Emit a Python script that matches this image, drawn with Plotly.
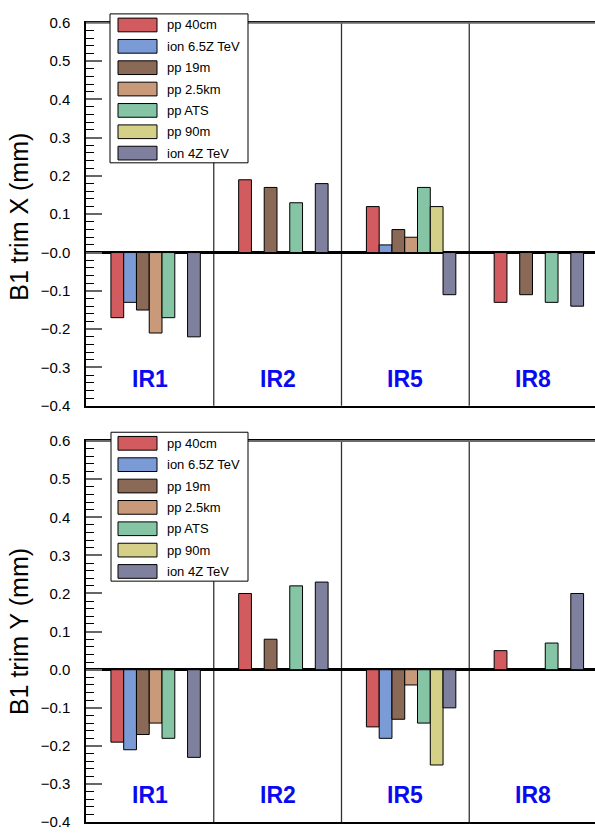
import plotly.graph_objects as go

# ---------------- data ----------------
groups = ["IR1", "IR2", "IR5", "IR8"]
series = ["pp 40cm", "ion 6.5Z TeV", "pp 19m", "pp 2.5km", "pp ATS", "pp 90m", "ion 4Z TeV"]

# B1 trim X (mm), per series, values for IR1, IR2, IR5, IR8 (None = no bar)
trim_x_pp40cm = [-0.17, 0.19, 0.12, -0.13]
trim_x_ion65 = [-0.13, None, 0.02, None]
trim_x_pp19m = [-0.15, 0.17, 0.06, -0.11]
trim_x_pp25km = [-0.21, None, 0.04, None]
trim_x_ppATS = [-0.17, 0.13, 0.17, -0.13]
trim_x_pp90m = [None, None, 0.12, None]
trim_x_ion4 = [-0.22, 0.18, -0.11, -0.14]

# B1 trim Y (mm)
trim_y_pp40cm = [-0.19, 0.20, -0.15, 0.05]
trim_y_ion65 = [-0.21, None, -0.18, None]
trim_y_pp19m = [-0.17, 0.08, -0.13, None]
trim_y_pp25km = [-0.14, None, -0.04, None]
trim_y_ppATS = [-0.18, 0.22, -0.14, 0.07]
trim_y_pp90m = [None, None, -0.25, None]
trim_y_ion4 = [-0.23, 0.23, -0.10, 0.20]

trim_x = [trim_x_pp40cm, trim_x_ion65, trim_x_pp19m, trim_x_pp25km, trim_x_ppATS, trim_x_pp90m, trim_x_ion4]
trim_y = [trim_y_pp40cm, trim_y_ion65, trim_y_pp19m, trim_y_pp25km, trim_y_ppATS, trim_y_pp90m, trim_y_ion4]

y_tickvals = [-0.4, -0.3, -0.2, -0.1, 0.0, 0.1, 0.2, 0.3, 0.4, 0.5, 0.6]
y_ticktext_top = ["\u22120.4", "\u22120.3", "\u22120.2", "\u22120.1", "\u22120.0", "0.1", "0.2", "0.3", "0.4", "0.5", "0.6"]
y_ticktext_bot = ["\u22120.4", "\u22120.3", "\u22120.2", "\u22120.1", "0.0", "0.1", "0.2", "0.3", "0.4", "0.5", "0.6"]

# ---------------- style ----------------
colors = ["#d15b5e", "#7b9bd6", "#8a6957", "#c99a7a", "#85c4a4", "#d4d088", "#7f7f9e"]
FONT = "Liberation Sans, Arial, sans-serif"
W, H = 595, 838
BAR_W = 0.1
FIRST_OFF = -0.305

def px_x(p):
    return p / W

def px_y(p):
    return 1 - p / H

fig = go.Figure()
gidx = list(range(len(groups)))

for panel, data in ((1, trim_x), (2, trim_y)):
    xa = "x" if panel == 1 else "x2"
    ya = "y" if panel == 1 else "y2"
    for k, (name, vals) in enumerate(zip(series, data)):
        fig.add_trace(go.Bar(
            x=gidx, y=vals, name=name, width=BAR_W, offset=FIRST_OFF + BAR_W * k,
            marker=dict(color=colors[k], line=dict(color="black", width=1)),
            xaxis=xa, yaxis=ya, showlegend=False,
        ))

top_dom = [px_y(405), px_y(14)]
bot_dom = [px_y(830), px_y(441)]
xrange_ = [-0.5, -0.5 + (W - 86) / 127.75]

common_x = dict(range=xrange_, showticklabels=False, ticks="", showgrid=False, zeroline=False,
                showline=True, linecolor="black", linewidth=2, mirror=True,
                domain=[px_x(86), 1])
fig.update_layout(
    xaxis=dict(common_x, anchor="y"),
    xaxis2=dict(common_x, anchor="y2"),
)

def yaxis_cfg(dom, ticktext, anchor):
    return dict(
        domain=dom, anchor=anchor, range=[-0.4, 0.6], showgrid=False,
        zeroline=True, zerolinecolor="black", zerolinewidth=2.5,
        showline=True, linecolor="black", linewidth=1.5, mirror=False,
        tickmode="array", tickvals=y_tickvals, ticktext=ticktext,
        ticks="inside", ticklen=16, tickwidth=1.5, tickcolor="#666",
        ticklabelstandoff=11,
        tickfont=dict(family=FONT, size=15, color="black"),
        minor=dict(dtick=0.02, tick0=0, ticks="inside", ticklen=8, tickwidth=1, tickcolor="black", showgrid=False),
    )

fig.update_layout(
    yaxis=yaxis_cfg(top_dom, y_ticktext_top, "x"),
    yaxis2=yaxis_cfg(bot_dom, y_ticktext_bot, "x2"),
)

shapes = []
annotations = []
# group separators, top frame line and labels
for panel in (1, 2):
    xr = "x" if panel == 1 else "x2"
    yr = "y" if panel == 1 else "y2"
    for b in [0.5, 1.5, 2.5]:
        shapes.append(dict(type="line", xref=xr, yref=yr + " domain", x0=b, x1=b, y0=0, y1=1,
                           line=dict(color="#333", width=1.3), layer="below"))
    shapes.append(dict(type="line", xref=xr + " domain", yref=yr + " domain", x0=0, x1=1, y0=1, y1=1,
                       line=dict(color="#6a6a6a", width=2), layer="above"))
    for i, g in enumerate(groups):
        annotations.append(dict(xref=xr, yref=yr, x=i, y=-0.33, text="<b>%s</b>" % g, showarrow=False,
                                font=dict(family=FONT, size=23, color="#0a0af0"),
                                xanchor="center", yanchor="middle"))

# y axis titles
annotations.append(dict(xref="paper", yref="paper", x=px_x(19), y=px_y(212), text="B1 trim X (mm)",
                        textangle=-90, showarrow=False, font=dict(family=FONT, size=25, color="black"),
                        xanchor="center", yanchor="middle"))
annotations.append(dict(xref="paper", yref="paper", x=px_x(19), y=px_y(636), text="B1 trim Y (mm)",
                        textangle=-90, showarrow=False, font=dict(family=FONT, size=25, color="black"),
                        xanchor="center", yanchor="middle"))

# legends (drawn manually to mimic wide swatches)
for (bx0, by0, bx1, by1, first_y) in [(110, 5, 248, 157, 16.3), (111, 432, 248, 584, 443.3)]:
    shapes.append(dict(type="rect", xref="paper", yref="paper", x0=px_x(bx0), x1=px_x(bx1),
                       y0=px_y(by1), y1=px_y(by0), fillcolor="white", line=dict(color="black", width=1),
                       layer="above"))
    for k, name in enumerate(series):
        cy = first_y + 21.8 * k
        shapes.append(dict(type="rect", xref="paper", yref="paper", x0=px_x(118), x1=px_x(157),
                           y0=px_y(cy + 7), y1=px_y(cy - 7), fillcolor=colors[k],
                           line=dict(color="black", width=1), layer="above"))
        annotations.append(dict(xref="paper", yref="paper", x=px_x(165), y=px_y(cy), text=name,
                                showarrow=False, xanchor="left", yanchor="middle",
                                font=dict(family=FONT, size=13, color="black")))

fig.update_layout(
    width=W, height=H, margin=dict(l=0, r=0, t=0, b=0),
    paper_bgcolor="white", plot_bgcolor="white",
    barmode="overlay", shapes=shapes, annotations=annotations, showlegend=False,
    font=dict(family=FONT),
)

fig.write_html("out.html")
